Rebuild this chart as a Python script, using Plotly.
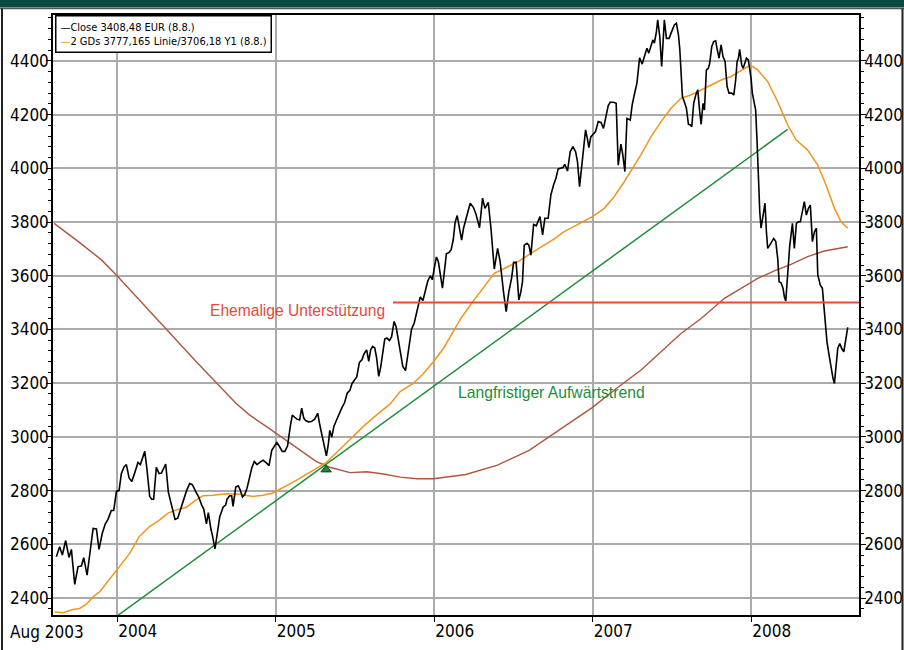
import plotly.graph_objects as go

# ---------------- data (x in decimal years) ----------------
close_t = [2003.617, 2003.638, 2003.655, 2003.676, 2003.697, 2003.712, 2003.733, 2003.754, 2003.775, 2003.790,
           2003.811, 2003.832, 2003.849, 2003.870, 2003.886, 2003.907, 2003.926, 2003.943, 2003.964, 2003.979,
           2003.996, 2004.013, 2004.027, 2004.044, 2004.059, 2004.076, 2004.093, 2004.111, 2004.132, 2004.147,
           2004.175, 2004.189, 2004.206, 2004.219, 2004.231, 2004.248, 2004.265, 2004.280, 2004.307, 2004.324,
           2004.336, 2004.353, 2004.366, 2004.383, 2004.400, 2004.421, 2004.437, 2004.458, 2004.475, 2004.496,
           2004.517, 2004.534, 2004.547, 2004.564, 2004.576, 2004.593, 2004.601, 2004.618, 2004.631, 2004.648,
           2004.669, 2004.686, 2004.694, 2004.711, 2004.723, 2004.732, 2004.749, 2004.765, 2004.778, 2004.791,
           2004.805, 2004.820, 2004.833, 2004.850, 2004.866, 2004.883, 2004.900, 2004.921, 2004.942, 2004.959,
           2004.976, 2005.008, 2005.025, 2005.042, 2005.059, 2005.076, 2005.093, 2005.106, 2005.121, 2005.135,
           2005.152, 2005.165, 2005.178, 2005.190, 2005.207, 2005.226, 2005.247, 2005.266, 2005.279, 2005.296,
           2005.309, 2005.321, 2005.334, 2005.342, 2005.355, 2005.368, 2005.385, 2005.402, 2005.419, 2005.436,
           2005.452, 2005.469, 2005.482, 2005.499, 2005.512, 2005.529, 2005.545, 2005.558, 2005.575, 2005.588,
           2005.600, 2005.613, 2005.626, 2005.638, 2005.651, 2005.664, 2005.677, 2005.689, 2005.702, 2005.719,
           2005.732, 2005.748, 2005.761, 2005.774, 2005.791, 2005.803, 2005.820, 2005.833, 2005.846, 2005.858,
           2005.875, 2005.892, 2005.913, 2005.930, 2005.943, 2005.960, 2005.977, 2005.989, 2006.002, 2006.015,
           2006.027, 2006.040, 2006.053, 2006.066, 2006.078, 2006.095, 2006.108, 2006.121, 2006.133, 2006.146,
           2006.161, 2006.174, 2006.186, 2006.203, 2006.228, 2006.249, 2006.266, 2006.287, 2006.306, 2006.321,
           2006.342, 2006.359, 2006.380, 2006.401, 2006.417, 2006.438, 2006.455, 2006.472, 2006.489, 2006.502,
           2006.518, 2006.535, 2006.548, 2006.558, 2006.569, 2006.586, 2006.598, 2006.611, 2006.628, 2006.645,
           2006.668, 2006.685, 2006.699, 2006.720, 2006.737, 2006.754, 2006.769, 2006.783, 2006.796, 2006.813,
           2006.825, 2006.842, 2006.859, 2006.876, 2006.893, 2006.905, 2006.918, 2006.931, 2006.943, 2006.956,
           2006.968, 2006.977, 2006.989, 2007.006, 2007.019, 2007.036, 2007.053, 2007.069, 2007.086, 2007.099,
           2007.111, 2007.132, 2007.149, 2007.162, 2007.179, 2007.191, 2007.204, 2007.217, 2007.238, 2007.250,
           2007.263, 2007.280, 2007.297, 2007.313, 2007.330, 2007.343, 2007.355, 2007.368, 2007.380, 2007.390,
           2007.403, 2007.411, 2007.424, 2007.436, 2007.445, 2007.453, 2007.466, 2007.483, 2007.499, 2007.516,
           2007.529, 2007.542, 2007.550, 2007.558, 2007.567, 2007.579, 2007.592, 2007.605, 2007.617, 2007.626,
           2007.638, 2007.651, 2007.664, 2007.676, 2007.685, 2007.697, 2007.706, 2007.718, 2007.731, 2007.739,
           2007.752, 2007.764, 2007.777, 2007.785, 2007.798, 2007.811, 2007.823, 2007.836, 2007.849, 2007.861,
           2007.878, 2007.891, 2007.903, 2007.912, 2007.920, 2007.928, 2007.941, 2007.950, 2007.962, 2007.971,
           2007.983, 2008.000, 2008.008, 2008.017, 2008.029, 2008.038, 2008.046, 2008.055, 2008.063, 2008.076,
           2008.088, 2008.097, 2008.105, 2008.118, 2008.130, 2008.143, 2008.156, 2008.168, 2008.177, 2008.189,
           2008.202, 2008.210, 2008.219, 2008.231, 2008.244, 2008.261, 2008.273, 2008.286, 2008.299, 2008.311,
           2008.324, 2008.336, 2008.349, 2008.362, 2008.374, 2008.387, 2008.400, 2008.412, 2008.421, 2008.437,
           2008.450, 2008.458, 2008.467, 2008.479, 2008.492, 2008.505, 2008.517, 2008.526, 2008.534, 2008.547,
           2008.560, 2008.572, 2008.585, 2008.597, 2008.610]
close_v = [2554, 2591, 2560, 2614, 2551, 2581, 2451, 2517, 2519, 2550,
           2485, 2585, 2659, 2657, 2581, 2641, 2676, 2693, 2726, 2726,
           2797, 2801, 2863, 2888, 2897, 2847, 2834, 2865, 2905, 2897,
           2946, 2878, 2778, 2768, 2768, 2887, 2863, 2865, 2899, 2793,
           2766, 2718, 2693, 2697, 2731, 2766, 2797, 2826, 2822, 2797,
           2774, 2746, 2731, 2676, 2718, 2654, 2635, 2583, 2641, 2703,
           2738, 2747, 2768, 2781, 2781, 2741, 2813, 2818, 2801, 2776,
           2784, 2809, 2841, 2884, 2908, 2897, 2905, 2913, 2903, 2893,
           2950, 2979, 2964, 2946, 2946, 2967, 3039, 3081, 3073, 3066,
           3063, 3107, 3070, 3061, 3056, 3057, 3066, 3088, 3045, 3001,
           2964, 2929, 2977, 3024, 2999, 3039, 3063, 3088, 3109, 3128,
           3163, 3173, 3198, 3213, 3222, 3277, 3287, 3309, 3324, 3281,
           3324, 3337, 3331, 3293, 3225, 3262, 3324, 3364, 3368, 3359,
           3372, 3430, 3409, 3364, 3306, 3262, 3247, 3306, 3364, 3401,
           3424, 3467, 3521, 3508, 3535, 3579, 3600, 3585, 3629, 3670,
           3653, 3604, 3554, 3620, 3682, 3687, 3697, 3734, 3799, 3824,
           3777, 3733, 3777, 3814, 3870, 3854, 3826, 3779, 3889, 3851,
           3873, 3777, 3625, 3702, 3653, 3541, 3466, 3541, 3590, 3650,
           3650, 3510, 3541, 3578, 3714, 3721, 3714, 3677, 3791, 3786,
           3820, 3752, 3814, 3814, 3901, 3938, 3963, 3998, 4000, 4003,
           4015, 3990, 4062, 4081, 4062, 4025, 3932, 4012, 4075, 4143,
           4109, 4077, 4117, 4129, 4137, 4174, 4171, 4149, 4193, 4234,
           4246, 4246, 4242, 4012, 4090, 4050, 3988, 4186, 4180, 4236,
           4273, 4317, 4412, 4388, 4422, 4447, 4429, 4460, 4478, 4466,
           4509, 4553, 4491, 4379, 4472, 4553, 4484, 4484, 4509, 4534,
           4540, 4497, 4447, 4348, 4267, 4248, 4224, 4164, 4162, 4155,
           4242, 4273, 4292, 4211, 4164, 4242, 4217, 4366, 4373, 4391,
           4453, 4472, 4475, 4447, 4410, 4460, 4416, 4398, 4304, 4280,
           4280, 4273, 4329, 4398, 4410, 4443, 4385, 4373, 4391, 4410,
           4404, 4335, 4280, 4251, 4217, 4099, 3938, 3838, 3777, 3826,
           3870, 3764, 3702, 3714, 3727, 3739, 3727, 3665, 3578, 3574,
           3553, 3522, 3506, 3615, 3712, 3795, 3702, 3795, 3801, 3801,
           3839, 3876, 3826, 3851, 3863, 3727, 3764, 3777, 3603, 3565,
           3553, 3491, 3416, 3354, 3305, 3255, 3218, 3199, 3255, 3329,
           3348, 3329, 3317, 3360, 3408]

ma38_t = [2003.607, 2003.659, 2003.722, 2003.764, 2003.807, 2003.849, 2003.891, 2003.933, 2003.975, 2004.017,
          2004.080, 2004.141, 2004.206, 2004.269, 2004.322, 2004.374, 2004.437, 2004.501, 2004.543, 2004.606,
          2004.690, 2004.774, 2004.858, 2004.921, 2004.984, 2005.142, 2005.258, 2005.321, 2005.385, 2005.469,
          2005.554, 2005.638, 2005.723, 2005.786, 2005.871, 2005.934, 2005.998, 2006.061, 2006.125, 2006.169,
          2006.253, 2006.317, 2006.380, 2006.443, 2006.527, 2006.611, 2006.695, 2006.758, 2006.821, 2006.905,
          2007.000, 2007.074, 2007.137, 2007.200, 2007.252, 2007.305, 2007.369, 2007.432, 2007.495, 2007.558,
          2007.621, 2007.685, 2007.748, 2007.811, 2007.874, 2007.937, 2007.979, 2008.011, 2008.042, 2008.105,
          2008.168, 2008.231, 2008.284, 2008.357, 2008.421, 2008.473, 2008.526, 2008.568, 2008.610]
ma38_v = [2348, 2345, 2357, 2361, 2377, 2404, 2423, 2454, 2485, 2517,
          2566, 2629, 2666, 2691, 2716, 2728, 2738, 2766, 2781, 2783,
          2788, 2786, 2778, 2783, 2791, 2842, 2883, 2905, 2942, 2991,
          3039, 3082, 3123, 3169, 3200, 3237, 3281, 3331, 3399, 3441,
          3510, 3559, 3609, 3627, 3652, 3683, 3714, 3737, 3764, 3789,
          3820, 3851, 3895, 3950, 4000, 4050, 4118, 4174, 4224, 4261,
          4273, 4292, 4311, 4329, 4342, 4366, 4379, 4379, 4366, 4323,
          4248, 4162, 4106, 4068, 4012, 3938, 3851, 3801, 3777]

ma200_t = [2003.603, 2003.75, 2003.90, 2004.00, 2004.25, 2004.50, 2004.75, 2004.835, 2004.941, 2005.047,
           2005.152, 2005.258, 2005.342, 2005.469, 2005.575, 2005.681, 2005.786, 2005.892, 2005.998, 2006.20,
           2006.40, 2006.60, 2006.80, 2007.00, 2007.15, 2007.306, 2007.432, 2007.558, 2007.685, 2007.832,
           2007.937, 2008.042, 2008.147, 2008.252, 2008.357, 2008.462, 2008.610]
ma200_v = [3795, 3730, 3660, 3600, 3440, 3280, 3125, 3082, 3039, 2995,
           2952, 2908, 2887, 2867, 2870, 2862, 2850, 2844, 2844, 2860,
           2895, 2950, 3030, 3110, 3180, 3249, 3317, 3385, 3441, 3516,
           3553, 3590, 3618, 3642, 3671, 3692, 3708]

trend_t = [2004.0, 2008.231]
trend_v = [2333, 4145]

support_t = [2005.741, 2008.70]
support_v = [3500, 3500]

signal_t = [2005.319]
signal_v = [2878]

year_ticks = [2004, 2005, 2006, 2007, 2008]
year_labels = ["2004", "2005", "2006", "2007", "2008"]
y_ticks = [2400, 2600, 2800, 3000, 3200, 3400, 3600, 3800, 4000, 4200, 4400]

legend_close = "Close 3408,48 EUR (8.8.)"
legend_ma = "2 GDs 3777,165 Linie/3706,18 Y1 (8.8.)"

# ---------------- styling ----------------
NARROW = "Liberation Sans Narrow, Arial Narrow, DejaVu Sans Condensed, sans-serif"
ARIAL = "Liberation Sans, Arial, sans-serif"
C_ORANGE = "#f0961e"
C_BROWN = "#b0553f"
C_GREEN = "#1f8c3c"
C_RED = "#e8493c"

fig = go.Figure()
fig.add_trace(go.Scatter(x=ma200_t, y=ma200_v, mode="lines", line=dict(color=C_BROWN, width=1.4),
                         showlegend=False, hoverinfo="skip"))
fig.add_trace(go.Scatter(x=trend_t, y=trend_v, mode="lines", line=dict(color=C_GREEN, width=1.5),
                         showlegend=False, hoverinfo="skip"))
fig.add_trace(go.Scatter(x=support_t, y=support_v, mode="lines", line=dict(color=C_RED, width=2),
                         showlegend=False, hoverinfo="skip", yaxis="y2"))
fig.add_trace(go.Scatter(x=ma38_t, y=ma38_v, mode="lines", line=dict(color=C_ORANGE, width=1.5),
                         name=legend_ma, showlegend=False))
fig.add_trace(go.Scatter(x=close_t, y=close_v, mode="lines", line=dict(color="black", width=1.6),
                         name=legend_close, showlegend=False))
fig.add_trace(go.Scatter(x=signal_t, y=signal_v, mode="markers",
                         marker=dict(symbol="triangle-up", size=9, color=C_GREEN,
                                     line=dict(color="#0b3d1c", width=1)),
                         showlegend=False, hoverinfo="skip"))

XR = [2003.596, 2008.681]
YR = [2336.7, 4571]
TICKFONT = dict(family=NARROW, size=17, color="black")

axis_common = dict(showgrid=True, gridcolor="#ababab", gridwidth=1.5, zeroline=False,
                   showline=True, linecolor="black", linewidth=1.5, automargin=False,
                   tickfont=TICKFONT)

fig.update_layout(
    width=904, height=650,
    margin=dict(l=53, r=45, t=15, b=35, autoexpand=False),
    paper_bgcolor="white", plot_bgcolor="white",
    showlegend=False,
    xaxis=dict(range=XR, tickvals=year_ticks, ticktext=year_labels, ticks="outside", ticklen=5,
               tickcolor="black", ticklabelposition="outside right", mirror=True, **axis_common),
    yaxis=dict(range=YR, tickvals=y_ticks, ticks="outside", ticklen=5, tickcolor="black",
               ticklabelstandoff=-6,
               minor=dict(dtick=40, tick0=2400, ticks="outside", ticklen=3, tickcolor="black", showgrid=False),
               **axis_common),
    yaxis2=dict(range=YR, overlaying="y", side="right", tickvals=y_ticks, ticks="outside", ticklen=5,
                tickcolor="black", showgrid=False, zeroline=False, showline=True, linecolor="black",
                linewidth=1.5, automargin=False, ticklabelstandoff=-5,
                minor=dict(dtick=40, tick0=2400, ticks="outside", ticklen=3, tickcolor="black"),
                tickfont=TICKFONT),
)

# Frame and header bar around the chart
px_x = lambda p: (p - 53) / 806.0
px_y = lambda p: (615 - p) / 600.0
fig.add_shape(type="rect", xref="paper", yref="paper", x0=px_x(0), x1=px_x(904), y0=px_y(7.5), y1=px_y(0),
              fillcolor="#0b4a40", line=dict(width=0), layer="above")
fig.add_shape(type="line", xref="paper", yref="paper", x0=px_x(0), x1=px_x(904), y0=px_y(8.5), y1=px_y(8.5),
              line=dict(color="#555555", width=1.5))
fig.add_shape(type="line", xref="paper", yref="paper", x0=px_x(2), x1=px_x(2), y0=px_y(8.5), y1=px_y(650),
              line=dict(color="#222222", width=2))
fig.add_shape(type="line", xref="paper", yref="paper", x0=px_x(902.5), x1=px_x(902.5), y0=px_y(8.5),
              y1=px_y(650), line=dict(color="#222222", width=2))

# Legend box (text + coloured dashes)
fig.add_annotation(xref="paper", yref="paper", x=px_x(55), y=px_y(15), xanchor="left", yanchor="top",
                   align="left", showarrow=False,
                   text=("<span style='color:black'>—</span>" + legend_close + "<br>"
                         "<span style='color:%s'>—</span>" % C_ORANGE + legend_ma),
                   font=dict(family=NARROW, size=11, color="black"),
                   bgcolor="white", bordercolor="black", borderwidth=1.5, borderpad=4)

fig.add_annotation(xref="paper", yref="paper", x=px_x(8), y=px_y(632), xanchor="left", yanchor="middle",
                   showarrow=False, text="Aug 2003", font=TICKFONT)

fig.add_annotation(x=2005.703, y=3472, xanchor="right", yanchor="middle", showarrow=False,
                   text="Ehemalige Unterstützung", font=dict(family=ARIAL, size=15.6, color=C_RED))
fig.add_annotation(x=2006.140, y=3167, xanchor="left", yanchor="middle", showarrow=False,
                   text="Langfristiger Aufwärtstrend", font=dict(family=ARIAL, size=15.7, color=C_GREEN))

fig.write_html("out.html", config={"displayModeBar": False},
               post_script=("document.documentElement.style.overflow='hidden';"
                            "document.body.style.overflow='hidden';"
                            "document.body.style.margin='0px';document.body.style.padding='0px';"))
